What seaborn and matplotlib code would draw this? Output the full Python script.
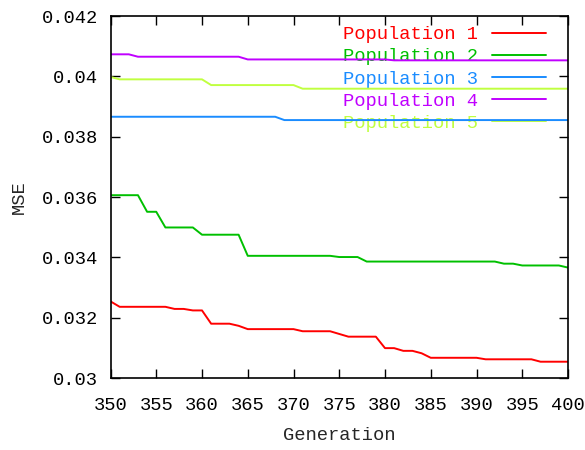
import pandas as pd
import seaborn as sns
import matplotlib.pyplot as plt
from matplotlib.ticker import FuncFormatter

generations = list(range(350, 401))

pop1 = [0.03254, 0.03236, 0.03236, 0.03236, 0.03236, 0.03236, 0.03236, 0.03229, 0.03229, 0.03224,
        0.03224, 0.03180, 0.03180, 0.03180, 0.03173, 0.03162, 0.03162, 0.03162, 0.03162, 0.03162,
        0.03162, 0.03155, 0.03155, 0.03155, 0.03155, 0.03146, 0.03137, 0.03137, 0.03137, 0.03137,
        0.03099, 0.03099, 0.03090, 0.03090, 0.03082, 0.03067, 0.03067, 0.03067, 0.03067, 0.03067,
        0.03067, 0.03062, 0.03062, 0.03062, 0.03062, 0.03062, 0.03062, 0.03054, 0.03054, 0.03054,
        0.03054]
pop2 = [0.03606, 0.03606, 0.03606, 0.03606, 0.03551, 0.03551, 0.03499, 0.03499, 0.03499, 0.03499,
        0.03475, 0.03475, 0.03475, 0.03475, 0.03475, 0.03405, 0.03405, 0.03405, 0.03405, 0.03405,
        0.03405, 0.03405, 0.03405, 0.03405, 0.03405, 0.03401, 0.03401, 0.03401, 0.03386, 0.03386,
        0.03386, 0.03386, 0.03386, 0.03386, 0.03386, 0.03386, 0.03386, 0.03386, 0.03386, 0.03386,
        0.03386, 0.03386, 0.03386, 0.03379, 0.03379, 0.03373, 0.03373, 0.03373, 0.03373, 0.03373,
        0.03366]
pop3 = [0.03866, 0.03866, 0.03866, 0.03866, 0.03866, 0.03866, 0.03866, 0.03866, 0.03866, 0.03866,
        0.03866, 0.03866, 0.03866, 0.03866, 0.03866, 0.03866, 0.03866, 0.03866, 0.03866, 0.03855,
        0.03855, 0.03855, 0.03855, 0.03855, 0.03855, 0.03855, 0.03855, 0.03855, 0.03855, 0.03855,
        0.03855, 0.03855, 0.03855, 0.03855, 0.03855, 0.03855, 0.03855, 0.03855, 0.03855, 0.03855,
        0.03855, 0.03855, 0.03855, 0.03855, 0.03855, 0.03855, 0.03855, 0.03855, 0.03855, 0.03855,
        0.03855]
pop4 = [0.04073, 0.04073, 0.04073, 0.04065, 0.04065, 0.04065, 0.04065, 0.04065, 0.04065, 0.04065,
        0.04065, 0.04065, 0.04065, 0.04065, 0.04065, 0.04056, 0.04056, 0.04056, 0.04056, 0.04056,
        0.04056, 0.04056, 0.04056, 0.04056, 0.04056, 0.04056, 0.04056, 0.04056, 0.04056, 0.04056,
        0.04056, 0.04053, 0.04053, 0.04053, 0.04053, 0.04053, 0.04053, 0.04053, 0.04053, 0.04053,
        0.04053, 0.04053, 0.04053, 0.04053, 0.04053, 0.04053, 0.04053, 0.04053, 0.04053, 0.04053,
        0.04053]
pop5 = [0.03998, 0.03990, 0.03990, 0.03990, 0.03990, 0.03990, 0.03990, 0.03990, 0.03990, 0.03990,
        0.03990, 0.03971, 0.03971, 0.03971, 0.03971, 0.03971, 0.03971, 0.03971, 0.03971, 0.03971,
        0.03971, 0.03959, 0.03959, 0.03959, 0.03959, 0.03959, 0.03959, 0.03959, 0.03959, 0.03959,
        0.03959, 0.03959, 0.03959, 0.03959, 0.03959, 0.03959, 0.03959, 0.03959, 0.03959, 0.03959,
        0.03959, 0.03959, 0.03959, 0.03959, 0.03959, 0.03959, 0.03959, 0.03959, 0.03959, 0.03959,
        0.03959]

labels = ['Population 1', 'Population 2', 'Population 3', 'Population 4', 'Population 5']
colors = ['#ff0000', '#00c000', '#1a8cff', '#c000ff', '#c0ff40']
x_ticks = list(range(350, 401, 5))
y_ticks = [0.03, 0.032, 0.034, 0.036, 0.038, 0.04, 0.042]

df = pd.DataFrame({'Generation': generations, labels[0]: pop1, labels[1]: pop2,
                   labels[2]: pop3, labels[3]: pop4, labels[4]: pop5})
df = df.melt(id_vars='Generation', var_name='Series', value_name='MSE')

sns.set_style('ticks')
plt.rcParams['font.family'] = ['Liberation Mono', 'DejaVu Sans Mono']
fs = 13.5

fig = plt.figure(figsize=(5.85, 4.5), dpi=100)
ax = fig.add_axes([110.5 / 585, 1 - 378 / 450, (568 - 110.5) / 585, (378 - 16) / 450])

sns.lineplot(data=df, x='Generation', y='MSE', hue='Series', hue_order=labels,
             palette=colors, linewidth=1.4, ax=ax)

ax.set_xlim(350, 400)
ax.set_ylim(0.03, 0.042)
ax.set_xticks(x_ticks)
ax.set_yticks(y_ticks)
ax.yaxis.set_major_formatter(FuncFormatter(lambda v, p: '%g' % v))
ax.tick_params(direction='in', length=6.5, width=1, top=True, right=True,
               labelsize=fs, colors='black')
ax.tick_params(axis='x', pad=14)
ax.tick_params(axis='y', pad=9)
for s in ax.spines.values():
    s.set_color('black')
    s.set_linewidth(1.2)

ax.set_xlabel('Generation', fontsize=fs, labelpad=9)
ax.set_ylabel('MSE', fontsize=fs, labelpad=10)

handles, _ = ax.get_legend_handles_labels()
leg = ax.legend(handles, labels, loc='upper right', bbox_to_anchor=(0.953, 0.972),
                frameon=False, markerfirst=False, labelcolor='linecolor',
                handlelength=2.9, handletextpad=0.75, labelspacing=0.27,
                borderpad=0, borderaxespad=0, fontsize=fs)
leg.set_zorder(1)

plt.savefig('out.png')
